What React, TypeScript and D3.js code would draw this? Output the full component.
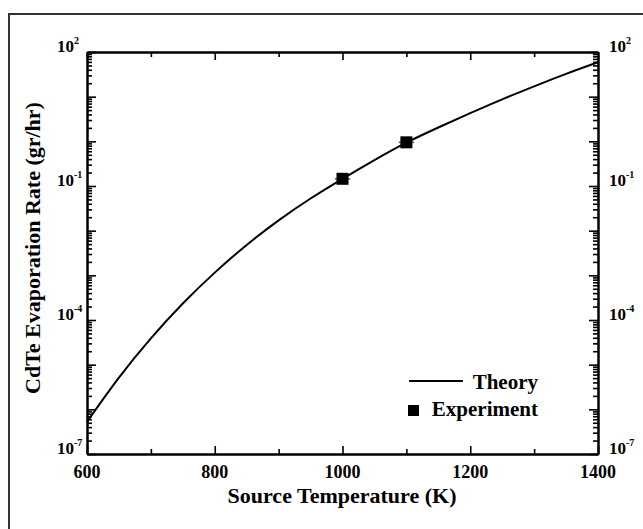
import { useEffect, useRef } from 'react';
import * as d3 from 'd3';

// Theory curve (rate in gr/hr)
const theoryTemps = [600, 650, 700, 750, 800, 850, 900, 950, 1000, 1050, 1100, 1150, 1200, 1250, 1300, 1350, 1400];
const theoryRates = [5.25e-7, 5.13e-6, 3.89e-5, 2.34e-4, 1.15e-3, 4.79e-3, 1.7e-2, 5.25e-2, 0.145, 0.38, 0.933, 2.04, 4.27, 8.71, 17.0, 32.4, 58.9];

// Measured points
const expTemps = [1000, 1100];
const expRates = [0.145, 0.95];
const expTempErr = [12, 12];

const xTickLabels = [600, 800, 1000, 1200, 1400];
const xMinorTicks = [700, 900, 1100, 1300];
const yLabelPowers = [2, -1, -4, -7];

export default function App() {
  const svgRef = useRef<SVGSVGElement | null>(null);

  useEffect(() => {
    if (!svgRef.current) return;
    const svg = d3.select(svgRef.current);
    svg.selectAll('*').remove();

    const left = 87, right = 598, top = 52, bottom = 454;
    const font = '"Liberation Serif", "Times New Roman", serif';

    const x = d3.scaleLinear().domain([600, 1400]).range([left, right]);
    const y = d3.scaleLog().domain([1e-7, 1e2]).range([bottom, top]);

    // outer frame
    svg.append('rect')
      .attr('x', 9).attr('y', 14)
      .attr('width', 700).attr('height', 600)
      .attr('fill', 'none').attr('stroke', '#333').attr('stroke-width', 2);

    const decades = d3.range(-7, 3).map(p => Math.pow(10, p));
    const minors: number[] = [];
    decades.slice(0, -1).forEach(d => {
      for (let k = 2; k <= 9; k++) minors.push(d * k);
    });

    const styleAxis = (g: any) => {
      g.selectAll('path.domain').attr('stroke', '#000').attr('stroke-width', 2);
      g.selectAll('.tick line').attr('stroke', '#000').attr('stroke-width', 1.6);
      g.selectAll('.tick text').remove();
    };

    // y axes: majors (decades) and minors, both sides, ticks inward
    svg.append('g').attr('transform', `translate(${left},0)`)
      .call(d3.axisLeft(y).tickValues(decades).tickSize(-9).tickSizeOuter(0))
      .call(styleAxis);
    svg.append('g').attr('transform', `translate(${left},0)`)
      .call(d3.axisLeft(y).tickValues(minors).tickSize(-5).tickSizeOuter(0))
      .call(styleAxis);
    svg.append('g').attr('transform', `translate(${right},0)`)
      .call(d3.axisRight(y).tickValues(decades).tickSize(-9).tickSizeOuter(0))
      .call(styleAxis);
    svg.append('g').attr('transform', `translate(${right},0)`)
      .call(d3.axisRight(y).tickValues(minors).tickSize(-5).tickSizeOuter(0))
      .call(styleAxis);

    // x axes, bottom and top
    svg.append('g').attr('transform', `translate(0,${bottom})`)
      .call(d3.axisBottom(x).tickValues(xTickLabels).tickSize(-8).tickSizeOuter(0))
      .call(styleAxis);
    svg.append('g').attr('transform', `translate(0,${bottom})`)
      .call(d3.axisBottom(x).tickValues(xMinorTicks).tickSize(-5).tickSizeOuter(0))
      .call(styleAxis);
    svg.append('g').attr('transform', `translate(0,${top})`)
      .call(d3.axisTop(x).tickValues(xTickLabels).tickSize(-8).tickSizeOuter(0))
      .call(styleAxis);
    svg.append('g').attr('transform', `translate(0,${top})`)
      .call(d3.axisTop(x).tickValues(xMinorTicks).tickSize(-5).tickSizeOuter(0))
      .call(styleAxis);

    // x tick labels
    svg.append('g').selectAll('text')
      .data(xTickLabels)
      .enter().append('text')
      .attr('x', d => x(d))
      .attr('y', bottom + 24)
      .attr('text-anchor', 'middle')
      .attr('font-family', font).attr('font-weight', 'bold').attr('font-size', 18)
      .text(d => d);

    // y tick labels (powers of ten), left and right
    [left - 30, right + 11].forEach(lx => {
      const t = svg.append('g').selectAll('text')
        .data(yLabelPowers)
        .enter().append('text')
        .attr('x', lx)
        .attr('y', d => y(Math.pow(10, d)))
        .attr('font-family', font).attr('font-weight', 'bold').attr('font-size', 17);
      t.append('tspan').text('10');
      t.append('tspan').attr('dy', -8).attr('font-size', 10).text(d => d);
    });

    // axis titles
    svg.append('text')
      .attr('x', 342)
      .attr('y', 503)
      .attr('text-anchor', 'middle')
      .attr('font-family', font).attr('font-weight', 'bold').attr('font-size', 22)
      .text('Source Temperature (K)');
    svg.append('text')
      .attr('transform', 'translate(40,248) rotate(-90)')
      .attr('text-anchor', 'middle')
      .attr('font-family', font).attr('font-weight', 'bold').attr('font-size', 22)
      .text('CdTe Evaporation Rate (gr/hr)');

    // theory curve
    const line = d3.line<number>()
      .x((d, i) => x(theoryTemps[i]))
      .y(d => y(d))
      .curve(d3.curveNatural);
    svg.append('path')
      .datum(theoryRates)
      .attr('d', line)
      .attr('fill', 'none')
      .attr('stroke', '#000')
      .attr('stroke-width', 2);

    // experiment points with small horizontal error bars
    const pts = svg.append('g').selectAll('g')
      .data(expTemps.map((t, i) => ({ t, r: expRates[i], e: expTempErr[i] })))
      .enter().append('g');
    pts.append('line')
      .attr('x1', d => x(d.t - d.e)).attr('x2', d => x(d.t + d.e))
      .attr('y1', d => y(d.r)).attr('y2', d => y(d.r))
      .attr('stroke', '#555').attr('stroke-width', 1.5);
    pts.append('rect')
      .attr('x', d => x(d.t) - 6).attr('y', d => y(d.r) - 6)
      .attr('width', 12).attr('height', 12)
      .attr('fill', '#000');

    // legend
    const lg = svg.append('g');
    lg.append('line')
      .attr('x1', 409).attr('x2', 463).attr('y1', 381).attr('y2', 381)
      .attr('stroke', '#000').attr('stroke-width', 2);
    lg.append('text')
      .attr('x', 538).attr('y', 389)
      .attr('text-anchor', 'end')
      .attr('font-family', font).attr('font-weight', 'bold').attr('font-size', 21)
      .text('Theory');
    lg.append('rect')
      .attr('x', 408).attr('y', 405).attr('width', 11).attr('height', 11)
      .attr('fill', '#000');
    lg.append('text')
      .attr('x', 538).attr('y', 416)
      .attr('text-anchor', 'end')
      .attr('font-family', font).attr('font-weight', 'bold').attr('font-size', 21)
      .text('Experiment');
  }, []);

  return (
    <svg
      ref={svgRef}
      width={643}
      height={529}
      style={{ position: 'absolute', left: 0, top: 0, background: '#fff' }}
    />
  );
}
